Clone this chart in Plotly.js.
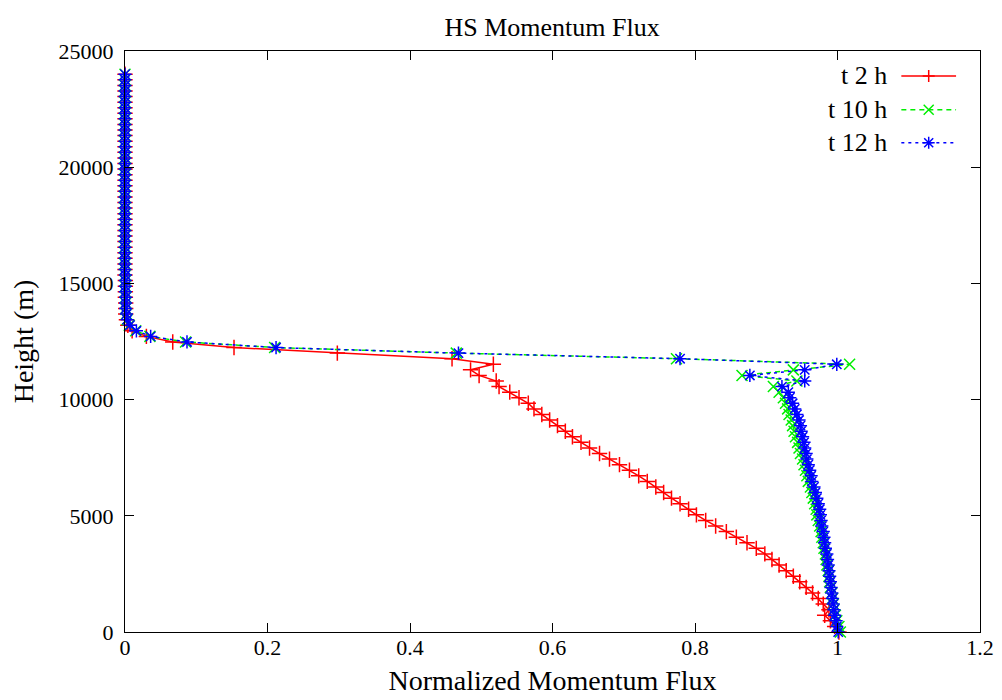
<!DOCTYPE html>
<html>
<head>
<meta charset="utf-8">
<script src="https://cdn.plot.ly/plotly-3.0.1.min.js"></script>
<style>html,body{margin:0;padding:0;background:#fff;}#chart{width:1002px;height:700px;}</style>
</head>
<body>
<div id="chart"></div>
<script>
// Heights (m) of the profile levels
const heights = [
  0,240,480,720,960,1200,1440,1680,1920,2160,
  2400,2640,2880,3120,3360,3600,3840,4080,4320,4560,
  4800,5040,5280,5520,5760,6000,6240,6480,6720,6960,
  7200,7440,7680,7920,8160,8400,8640,8880,9120,9360,
  9600,9840,10080,10320,10560,10800,11040,11280,11520,11760,
  12000,12240,12480,12720,12960,13200,13440,13680,13920,14160,
  14400,14640,14880,15120,15360,15600,15840,16080,16320,16560,
  16800,17040,17280,17520,17760,18000,18240,18480,18720,18960,
  19200,19440,19680,19920,20160,20400,20640,20880,21120,21360,
  21600,21840,22080,22320,22560,22800,23040,23280,23520,23760,
  24000];

// Normalized momentum flux, t = 2 h
const flux2h = [
  1.002,0.996,0.990,0.982,0.988,0.980,0.973,0.965,0.956,0.947,
  0.938,0.928,0.918,0.908,0.898,0.886,0.873,0.858,0.844,0.829,
  0.815,0.802,0.791,0.779,0.767,0.756,0.745,0.733,0.721,0.708,
  0.694,0.680,0.666,0.652,0.640,0.628,0.618,0.607,0.596,0.585,
  0.574,0.566,0.553,0.540,0.525,0.521,0.497,0.485,0.517,0.459,
  0.298,0.153,0.067,0.030,0.010,0.004,0.002,0.001,0.001,0.001,
  0.0005,0.0005,0.0005,0.0005,0,0,0,0,0,0,
  0,0,0,0,0,0,0,0,0,0,
  0,0,0,0,0,0,0,0,0,0,
  0,0,0,0,0,0,0,0,0,0,
  0];

// Normalized momentum flux, t = 10 h
const flux10h = [
  1.004,1.002,0.999,0.997,0.995,0.994,0.993,0.992,0.990,0.989,
  0.988,0.987,0.985,0.984,0.983,0.981,0.980,0.978,0.977,0.975,
  0.973,0.971,0.970,0.968,0.966,0.964,0.962,0.959,0.957,0.955,
  0.953,0.951,0.948,0.946,0.944,0.941,0.939,0.937,0.935,0.932,
  0.930,0.927,0.924,0.918,0.910,0.943,0.866,0.938,1.017,0.774,
  0.465,0.210,0.085,0.035,0.015,0.006,0.003,0.002,0.001,0.001,
  0.001,0.0005,0.0005,0.0005,0.0005,0,0,0,0,0,
  0,0,0,0,0,0,0,0,0,0,
  0,0,0,0,0,0,0,0,0,0,
  0,0,0,0,0,0,0,0,0,0,
  0];

// Normalized momentum flux, t = 12 h
const flux12h = [
  1.001,0.999,0.998,0.996,0.995,0.994,0.993,0.992,0.991,0.990,
  0.989,0.988,0.987,0.986,0.985,0.983,0.982,0.981,0.980,0.978,
  0.977,0.976,0.975,0.973,0.971,0.969,0.967,0.964,0.963,0.961,
  0.959,0.957,0.956,0.954,0.953,0.951,0.949,0.948,0.946,0.943,
  0.940,0.937,0.933,0.931,0.922,0.954,0.877,0.954,0.999,0.779,
  0.468,0.212,0.087,0.036,0.016,0.007,0.003,0.002,0.001,0.001,
  0.001,0.0005,0.0005,0.0005,0.0005,0,0,0,0,0,
  0,0,0,0,0,0,0,0,0,0,
  0,0,0,0,0,0,0,0,0,0,
  0,0,0,0,0,0,0,0,0,0,
  0];

const seriesNames = ["t 2 h", "t 10 h", "t 12 h"];
const xTicks = [0, 0.2, 0.4, 0.6, 0.8, 1.0, 1.2];
const xTickText = ["0", "0.2", "0.4", "0.6", "0.8", "1", "1.2"];
const yTicks = [0, 5000, 10000, 15000, 20000, 25000];
const yTickText = ["0", "5000", "10000", "15000", "20000", "25000"];

const FONT = "'Liberation Serif', 'Times New Roman', serif";
const colors = ["#ff0000", "#00ee00", "#0000ff"];
const dashes = ["solid", "5px,4px", "3px,4px"];
const symbols = ["cross-thin-open", "x-thin-open", "asterisk-open"];
const seriesData = [flux2h, flux10h, flux12h];

const traces = seriesData.map((vals, k) => ({
  type: "scatter",
  mode: "lines+markers",
  x: vals,
  y: heights,
  name: seriesNames[k],
  line: {color: colors[k], width: 1.5, dash: dashes[k]},
  marker: {symbol: symbols[k], size: 11, color: colors[k], line: {color: colors[k], width: 1.5}},
  cliponaxis: false,
  showlegend: false
}));

// Gnuplot-style key: text on the left, line/point sample on the right
const legY = [0.957, 0.899, 0.842];
const markerPaths = [
  "M-6,0H6M0,-6V6",
  "M-5,-5L5,5M-5,5L5,-5",
  "M-6,0H6M0,-6V6M-4.5,-4.5L4.5,4.5M-4.5,4.5L4.5,-4.5"
];
const shapes = [];
const annotations = [];
seriesNames.forEach((nm, k) => {
  shapes.push({type: "line", xref: "paper", yref: "paper", x0: 0.908, x1: 0.972, y0: legY[k], y1: legY[k],
    line: {color: colors[k], width: 1.5, dash: dashes[k]}});
  shapes.push({type: "path", xref: "paper", yref: "paper", xsizemode: "pixel", ysizemode: "pixel",
    xanchor: 0.940, yanchor: legY[k], path: markerPaths[k], line: {color: colors[k], width: 1.5}});
  annotations.push({xref: "paper", yref: "paper", x: 0.893, y: legY[k], xanchor: "right", yanchor: "middle",
    text: nm, showarrow: false, font: {family: FONT, size: 26, color: "#000"}});
});

const layout = {
  width: 1002, height: 700,
  margin: {l: 125, r: 22, t: 51, b: 68},
  paper_bgcolor: "#fff", plot_bgcolor: "#fff",
  font: {family: FONT, color: "#000"},
  title: {text: "HS Momentum Flux", font: {family: FONT, size: 26, color: "#000"}, x: 0.551, xanchor: "center", y: 0.962, yanchor: "middle"},
  xaxis: {
    range: [0, 1.2], tickvals: xTicks, ticktext: xTickText,
    ticks: "inside", ticklen: 9, tickwidth: 1, tickcolor: "#000",
    showline: true, linecolor: "#000", linewidth: 1.2, mirror: "allticks",
    showgrid: false, zeroline: false,
    tickfont: {family: FONT, size: 22, color: "#000"},
    ticklabelstandoff: -5,
    automargin: false,
    title: {text: "Normalized Momentum Flux", font: {family: FONT, size: 28, color: "#000"}, standoff: 11}
  },
  yaxis: {
    range: [0, 25000], tickvals: yTicks, ticktext: yTickText,
    ticks: "inside", ticklen: 9, tickwidth: 1, tickcolor: "#000",
    showline: true, linecolor: "#000", linewidth: 1.2, mirror: "allticks",
    showgrid: false, zeroline: false,
    tickfont: {family: FONT, size: 22, color: "#000"},
    ticklabelstandoff: 6,
    automargin: false,
    title: {text: "Height (m)", font: {family: FONT, size: 28, color: "#000"}, standoff: 16}
  },
  shapes: shapes,
  annotations: annotations,
  showlegend: false
};

Plotly.newPlot("chart", traces, layout, {displayModeBar: false, staticPlot: true});
</script>
</body>
</html>
